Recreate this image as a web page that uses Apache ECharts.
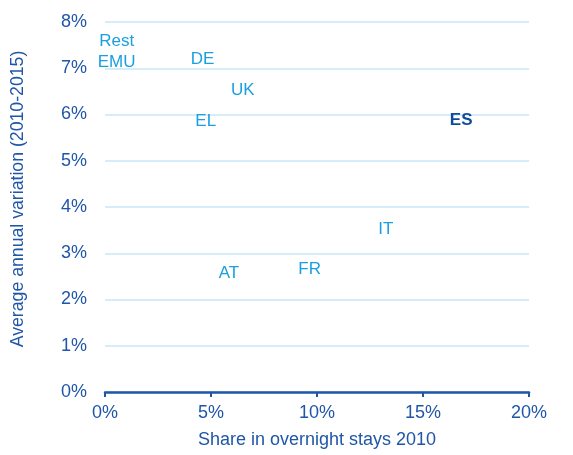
<!DOCTYPE html>
<html>
<head>
<meta charset="utf-8">
<script src="https://cdn.jsdelivr.net/npm/echarts@6/dist/echarts.min.js"></script>
<style>
  html, body { margin: 0; padding: 0; background: #fff; }
  #chart { width: 573px; height: 455px; }
</style>
</head>
<body>
<div id="chart"></div>
<script>
// 国家名, 2010年过夜份额(%), 年均变化(%)
var names = ['Rest\nEMU', 'DE', 'UK', 'EL', 'ES', 'IT', 'FR', 'AT'];
var shares = [0.55, 4.6, 6.5, 4.75, 16.8, 13.25, 9.65, 5.85];
var variations = [7.35, 7.2, 6.53, 5.86, 5.88, 3.52, 2.66, 2.57];
var xTicks = [0, 5, 10, 15, 20];
var yTicks = [0, 1, 2, 3, 4, 5, 6, 7, 8];

var font = 'Liberation Sans, Arial, sans-serif';

var points = names.map(function (n, i) {
  var item = { name: n, value: [shares[i], variations[i]] };
  if (n === 'ES') {
    item.label = { color: '#0d4c9c', fontWeight: 'bold' };
  }
  return item;
});

var myChart = echarts.init(document.getElementById('chart'));
myChart.setOption({
  animation: false,
  textStyle: { fontFamily: font },
  grid: { left: 105, right: 44, top: 22, bottom: 63 },
  xAxis: {
    type: 'value',
    min: xTicks[0],
    max: xTicks[xTicks.length - 1],
    interval: 5,
    name: 'Share in overnight stays 2010',
    nameLocation: 'middle',
    nameGap: 39,
    nameTextStyle: { color: '#1f56a8', fontSize: 18, fontFamily: font },
    axisLine: { show: true, lineStyle: { color: '#1f56a8', width: 2.5 } },
    axisTick: { show: true, length: 5, lineStyle: { color: '#1f56a8', width: 2 } },
    axisLabel: { color: '#1f56a8', fontSize: 18, margin: 12, formatter: '{value}%', fontFamily: font },
    splitLine: { show: false }
  },
  yAxis: {
    type: 'value',
    min: yTicks[0],
    max: yTicks[yTicks.length - 1],
    interval: 1,
    name: 'Average annual variation (2010-2015)',
    nameLocation: 'middle',
    nameGap: 78,
    nameTextStyle: { color: '#1f56a8', fontSize: 17.7, fontFamily: font, padding: [0, 0, 0, 16] },
    axisLine: { show: false },
    axisTick: { show: false },
    axisLabel: { color: '#1f56a8', fontSize: 18, margin: 18, formatter: '{value}%', fontFamily: font },
    splitLine: { show: true, lineStyle: { color: '#c9e6f6', width: 1.5 } }
  },
  series: [{
    type: 'scatter',
    symbolSize: 0,
    itemStyle: { opacity: 1 },
    data: points,
    label: {
      show: true,
      position: 'inside',
      formatter: '{b}',
      color: '#1a9fe0',
      opacity: 1,
      fontSize: 17,
      lineHeight: 21,
      fontFamily: font
    }
  }]
});
</script>
</body>
</html>
